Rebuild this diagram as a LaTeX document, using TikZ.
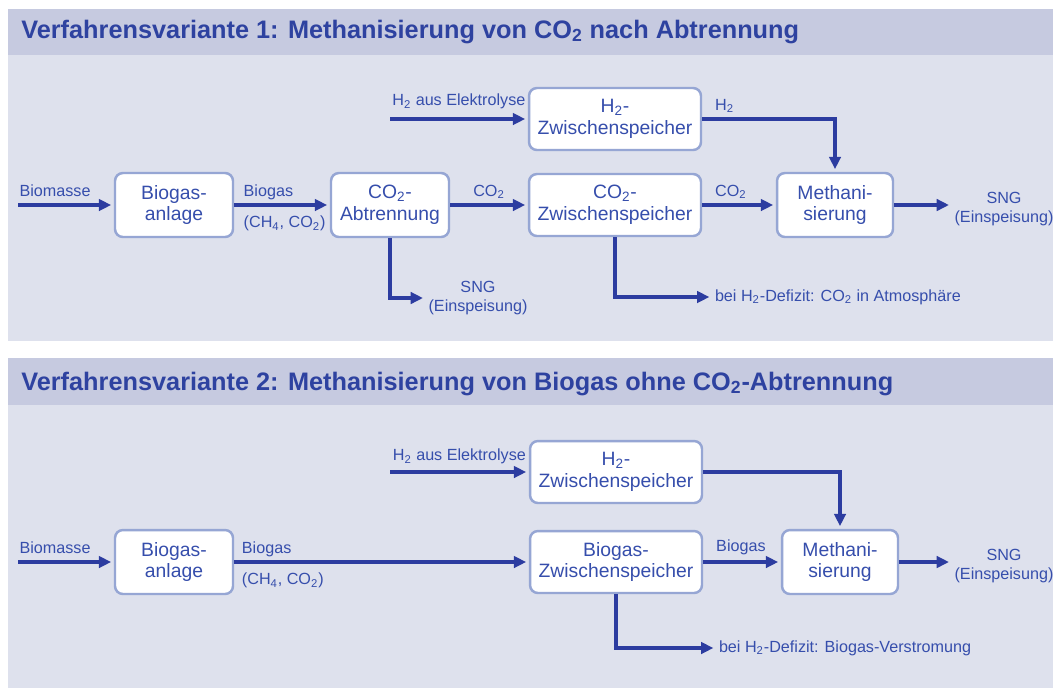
\documentclass[tikz,border=0pt]{standalone}
\usepackage{fontspec}
\setmainfont{Liberation Sans}
\usepackage{tikz}
\usetikzlibrary{arrows.meta}
\definecolor{figtext}{RGB}{54,78,172}
\definecolor{figtitle}{RGB}{46,66,160}
\definecolor{figarrow}{RGB}{44,60,160}
\definecolor{figbox}{RGB}{150,166,212}
\definecolor{headbg}{RGB}{198,202,224}
\definecolor{panelbg}{RGB}{222,225,237}
\newcommand{\cotwo}{CO\textsubscript{2}}
\newcommand{\htwo}{H\textsubscript{2}}
\tikzset{
  box/.style  ={draw=figbox, line width=1.4pt, fill=white, rounded corners=4.5pt, align=center,
                text=figtext, font=\fontsize{11}{12.5}\selectfont, inner sep=0pt},
  blk/.style  ={box, minimum width=2.36cm, minimum height=1.28cm},
  blkw/.style ={box, minimum width=3.44cm, minimum height=1.24cm},
  lab/.style  ={text=figtext, font=\fontsize{9.2}{11}\selectfont, inner sep=1.5pt},
  ttl/.style  ={text=figtitle, font=\fontsize{14.4}{16}\selectfont\bfseries, inner sep=0pt},
  flow/.style ={draw=figarrow, line width=1.8pt, shorten >=1.5pt, -{Triangle[length=7pt,width=6.5pt]}},
}

\begin{document}
\begin{tikzpicture}[x=0.02cm,y=-0.02cm]
  \useasboundingbox (0,0) rectangle (1053,691);
  \fill[white] (0,0) rectangle (1053,691);
  % panels
  \fill[headbg] (8,9) rectangle (1053,55);
  \fill[panelbg] (8,55) rectangle (1053,341);
  \fill[headbg] (8,358) rectangle (1053,405);
  \fill[panelbg] (8,405) rectangle (1053,688);
  \node[ttl,anchor=base west] (ttl1) at (21,38) {Verfahrensvariante 1: Methanisierung von \cotwo{} nach Abtrennung};
  \node[ttl,anchor=base west] (ttl2) at (21,390) {Verfahrensvariante 2: Methanisierung von Biogas ohne \cotwo-Abtrennung};

  % Variante 1
  \node[blk] (anl1) at (174,205) {Biogas-\\anlage};
  \node[blk] (abt1) at (390,205) {\cotwo-\\Abtrennung};
  \node[blkw] (zsp1) at (615,205) {\cotwo-\\Zwischenspeicher};
  \node[blkw] (hsp1) at (615,119) {\htwo-\\Zwischenspeicher};
  \node[blk,minimum width=2.32cm] (met1) at (835,205) {Methani-\\sierung};
  \node[lab,align=center] (sng1) at (1004,209) {SNG\\(Einspeisung)};
  \node[lab,align=center] (sngb1) at (478,298) {SNG\\(Einspeisung)};
  \node[lab,anchor=west] (atm1) at (712,297) {bei \htwo-Defizit: \cotwo{} in Atmosphäre};
  \coordinate (bm1) at (18,205);
  \coordinate (el1) at (390,119);
  \draw[flow] (bm1) -- node[lab,pos=0,anchor=base west,xshift=-1.5pt,yshift=5pt] {Biomasse} (anl1);
  \draw[flow] (anl1) -- node[lab,pos=0,anchor=base west,xshift=3pt,yshift=5pt] {Biogas}
                        node[lab,pos=0,anchor=base west,xshift=3pt,yshift=-13pt] {(CH\textsubscript{4}, \cotwo)} (abt1);
  \draw[flow] (abt1) -- node[lab,anchor=base,yshift=5pt] {\cotwo} (zsp1);
  \draw[flow] (zsp1) -- node[lab,pos=0,anchor=base west,xshift=5pt,yshift=5pt] {\cotwo} (met1);
  \draw[flow] (el1) -- node[lab,anchor=base,yshift=7.5pt] {\htwo{} aus Elektrolyse} (hsp1);
  \draw[flow] (hsp1) -| node[lab,pos=0,anchor=base west,xshift=5pt,yshift=5pt] {\htwo} (met1);
  \draw[flow] (met1) -- (met1 -| sng1.west);
  \draw[flow] (abt1) |- (sngb1);
  \draw[flow] (zsp1) |- (atm1);

  % Variante 2
  \node[blk] (anl2) at (174,562) {Biogas-\\anlage};
  \node[blkw] (zsp2) at (616,562) {Biogas-\\Zwischenspeicher};
  \node[blkw] (hsp2) at (616,472) {\htwo-\\Zwischenspeicher};
  \node[blk,minimum width=2.32cm] (met2) at (840,562) {Methani-\\sierung};
  \node[lab,align=center] (sng2) at (1004,566) {SNG\\(Einspeisung)};
  \node[lab,anchor=west] (vst2) at (716,648) {bei \htwo-Defizit: Biogas-Verstromung};
  \coordinate (bm2) at (18,562);
  \coordinate (el2) at (390,472);
  \draw[flow] (bm2) -- node[lab,pos=0,anchor=base west,xshift=-1.5pt,yshift=5pt] {Biomasse} (anl2);
  \draw[flow] (anl2) -- node[lab,pos=0,anchor=base west,xshift=2pt,yshift=5pt] {Biogas}
                        node[lab,pos=0,anchor=base west,xshift=2pt,yshift=-13pt] {(CH\textsubscript{4}, \cotwo)} (zsp2);
  \draw[flow] (zsp2) -- node[lab,pos=0,anchor=base west,xshift=5pt,yshift=6pt] {Biogas} (met2);
  \draw[flow] (el2) -- node[lab,anchor=base,yshift=6.5pt] {\htwo{} aus Elektrolyse} (hsp2);
  \draw[flow] (hsp2) -| (met2);
  \draw[flow] (met2) -- (met2 -| sng2.west);
  \draw[flow] (zsp2) |- (vst2);
\end{tikzpicture}
\end{document}
